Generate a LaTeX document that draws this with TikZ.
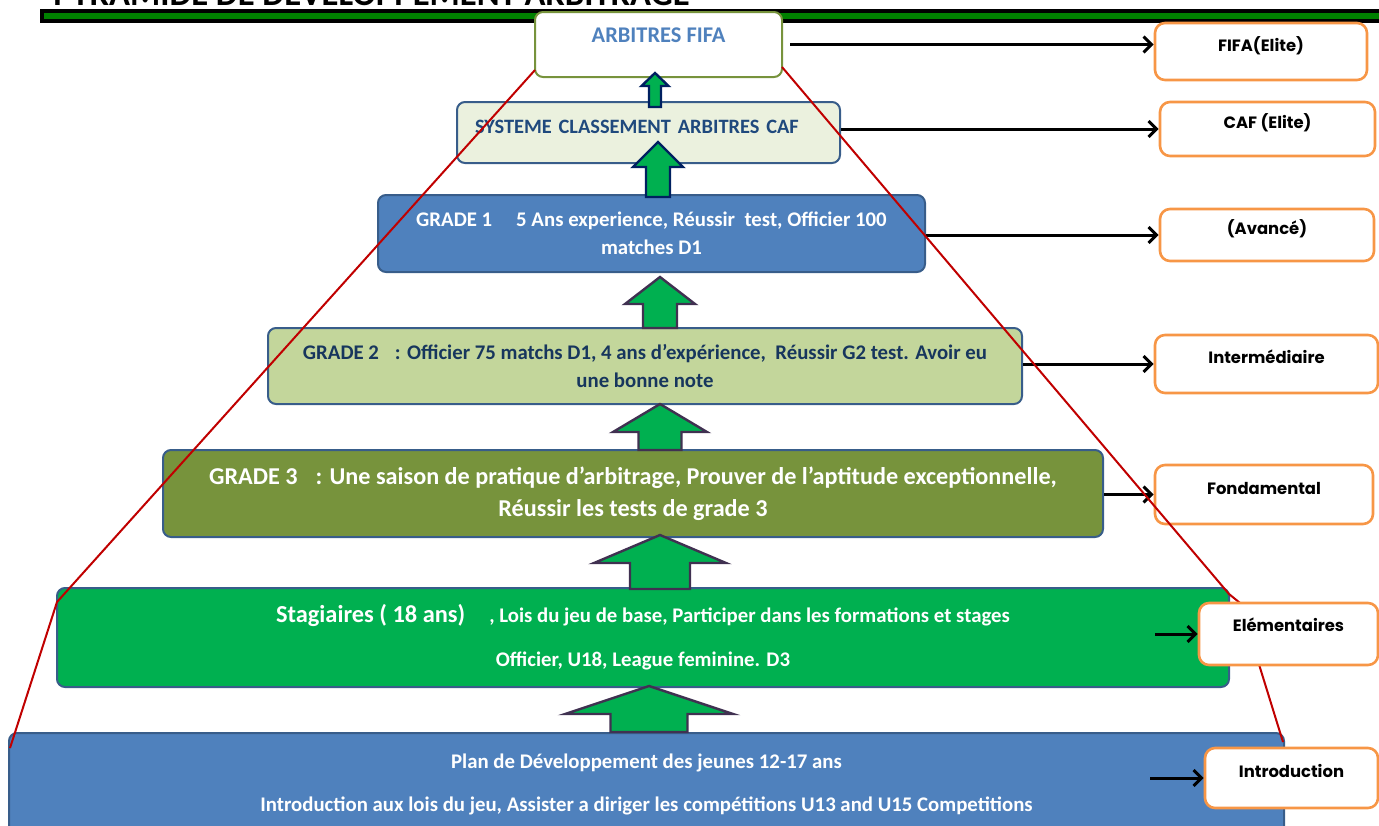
\documentclass[tikz,border=0pt]{standalone}
\usepackage{fontspec}
\setmainfont{Carlito}
\newfontfamily\rankfont{Poppins}
\usetikzlibrary{arrows.meta,positioning}

\definecolor{tierblue}{RGB}{79,129,189}
\definecolor{tierline}{RGB}{56,93,138}
\definecolor{fifaolive}{RGB}{119,147,60}
\definecolor{cafpale}{RGB}{235,241,222}
\definecolor{cafnavy}{RGB}{31,73,125}
\definecolor{paleolive}{RGB}{195,214,155}
\definecolor{gradenavy}{RGB}{23,54,93}
\definecolor{olive}{RGB}{119,147,60}
\definecolor{stagegreen}{RGB}{0,176,80}
\definecolor{rankorange}{RGB}{247,150,70}
\definecolor{sidered}{RGB}{192,0,0}
\definecolor{bargreen}{RGB}{0,128,0}
\definecolor{arrownavy}{RGB}{0,32,96}
\definecolor{arrowplum}{RGB}{64,49,81}

\begin{document}
\begin{tikzpicture}[
    x=0.5pt, y=-0.5pt,
    tier/.style    = {draw=tierline, line width=1pt, rounded corners=4pt, align=center,
                      font=\bfseries\fontsize{10.4}{14}\selectfont},
    rankbox/.style = {draw=rankorange, line width=1.3pt, rounded corners=5pt, fill=white,
                      font=\rankfont\bfseries\fontsize{8.2}{10}\selectfont,
                      text height=5.8pt, text depth=6pt},
    link/.style    = {line width=1.5pt, -{Straight Barb[length=4pt,width=8pt]}},
    pyrside/.style = {sidered, line width=1pt},
  ]

  \useasboundingbox (0,0) rectangle (1379,825);
  \clip (0,0) rectangle (1379,825);

  % Titel (oben abgeschnitten) und Balken
  \node[anchor=base west, inner sep=0pt, font=\bfseries\fontsize{17.3}{18}\selectfont] (title) at (53,5) {PYRAMIDE DE DEVELOPPEMENT ARBITRAGE};
  \fill[black] (40,9.3) rectangle (1379,22.7);
  \fill[bargreen] (44,12.7) rectangle (1379,19);

  % Stufen der Pyramide
  \node[tier, draw=fifaolive, fill=white, text=tierblue, font=\bfseries\fontsize{11.2}{14}\selectfont,
        minimum width=123.5pt, minimum height=32.5pt,
        text height=7pt, text depth=9.5pt] (fifa) at (658.5,44.5) {ARBITRES FIFA};
  \node[tier, fill=cafpale, text=cafnavy, font=\bfseries\fontsize{10.2}{14}\selectfont,
        align=left, text width=173.5pt, inner xsep=9pt,
        minimum height=30.5pt, text height=6.5pt, text depth=5.5pt] (caf) at (648.5,132.5) {SYSTEME CLASSEMENT ARBITRES CAF};
  \node[tier, fill=tierblue, text=white, minimum width=273.5pt, minimum height=38.5pt] (grade1) at (651.5,233.5)
    {GRADE 1\hspace{12pt}5 Ans experience, Réussir~ test, Officier 100\\matches D1};
  \node[tier, fill=paleolive, text=gradenavy, minimum width=377pt, minimum height=38pt] (grade2) at (645,366)
    {GRADE 2\hspace{8pt}: Officier 75 matchs D1, 4 ans d’expérience,~ Réussir G2 test. Avoir eu\\une bonne note};
  \node[tier, fill=olive, text=white, font=\bfseries\fontsize{12.1}{16}\selectfont,
        minimum width=470pt, minimum height=43.5pt] (grade3) at (633,493.5)
    {GRADE 3\hspace{9pt}: Une saison de pratique d’arbitrage, Prouver de l’aptitude exceptionnelle,\\Réussir les tests de grade 3};
  \node[tier, fill=stagegreen, text=white, minimum width=586pt, minimum height=49.5pt] (stag) at (643,637.5)
    {{\fontsize{12.2}{14}\selectfont Stagiaires ( 18 ans)}\hspace{12pt}, Lois du jeu de base, Participer dans les formations et stages\\[8pt]Officier, U18, League feminine. D3};
  \node[tier, fill=tierblue, text=white, minimum width=637.5pt, minimum height=51pt] (plan) at (646.5,784)
    {Plan de Développement des jeunes 12-17 ans\\[7.5pt]Introduction aux lois du jeu, Assister a diriger les compétitions U13 and U15 Competitions};

  % Blockpfeile nach oben
  \foreach \tx/\ty/\hb/\hw/\sw/\bot/\col in {655/73/86/13.5/6/107/arrownavy,
                                             658/142/167/25/12/197/arrownavy,
                                             660/277/304/35/17/328/arrowplum,
                                             660/404/432/47/21.5/450/arrowplum,
                                             660/535/563/66/30/589/arrowplum,
                                             649/686/714/84/38.5/732/arrowplum}
    \filldraw[fill=stagegreen, draw=\col, line width=1.2pt]
      (\tx,\ty) -- (\tx+\hw,\hb) -- (\tx+\sw,\hb) -- (\tx+\sw,\bot)
      -- (\tx-\sw,\bot) -- (\tx-\sw,\hb) -- (\tx-\hw,\hb) -- cycle;

  % Niveaus rechts
  \node[rankbox, minimum width=106pt, minimum height=28.5pt] (fifaR) at (1261,51.5) {FIFA(Elite)};
  \node[rankbox, minimum width=107.5pt, minimum height=27pt] (cafR) at (1267.5,129) {CAF (Elite)};
  \node[rankbox, minimum width=107pt, minimum height=26pt] (avR) at (1267,235) {(Avancé)};
  \node[rankbox, minimum width=111.5pt, minimum height=29pt] (intR) at (1266.5,364) {Intermédiaire};
  \node[rankbox, minimum width=109pt, minimum height=29.5pt] (fonR) at (1264,494.5) {Fondamental};

  % Pfeile zu den Niveaus
  \coordinate (eleS) at (1155,634);
  \coordinate (introS) at (1150,778);
  \draw[link] ([xshift=3.5pt]fifa.east) -- (fifa.east -| fifaR.west);
  \draw[link] (caf.east |- cafR.west) -- (cafR.west);
  \draw[link] (grade1.east |- avR.west) -- (avR.west);
  \draw[link] (grade2.east |- intR.west) -- (intR.west);
  \draw[link] (grade3.east |- fonR.west) -- (fonR.west);

  % Seiten der Pyramide
  \draw[pyrside] (535,70) -- (57,602) -- (10,748);
  \draw[pyrside] (782,67) -- (1229,594) -- (1240,603) -- (1283,742);

  \node[rankbox, minimum width=89.5pt, minimum height=31pt, text depth=8pt] (eleR) at (1288.5,634) {Elémentaires};
  \node[rankbox, minimum width=86.5pt, minimum height=30pt] (introR) at (1291.5,778) {Introduction\hspace{16pt}};
  \draw[link] (eleS) -- (eleR.west);
  \draw[link] (introS) -- (introR.west);

\end{tikzpicture}
\end{document}
